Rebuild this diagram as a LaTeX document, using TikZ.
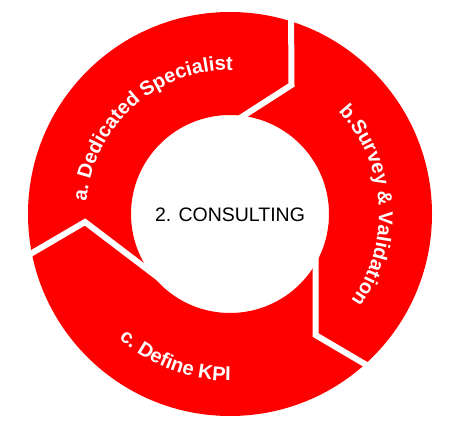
\documentclass[tikz,border=0pt]{standalone}
\usepackage{fontspec}
\setmainfont{Liberation Sans}
\usetikzlibrary{decorations.text}
\definecolor{ringred}{RGB}{255,0,0}
\begin{document}
\begin{tikzpicture}[x=1pt,y=1pt,
  ring/.style={fill=ringred, even odd rule},
  gapline/.style={draw=white, line width=6pt, line join=miter, miter limit=20},
  arclabel/.style={decorate, decoration={text along path, text align=center, text color=white, text={#1}}}
]
\useasboundingbox (-230,-219) rectangle (232,214);
\coordinate (ctr) at (0,0);
% red ring
\fill[ring] (ctr) circle[radius=202] (ctr) circle[radius=99];
% gaps between the three arrow segments
\coordinate (g1o) at (61,209);
\coordinate (g1t) at (61.5,129);
\coordinate (g1i) at (8.5,95);
\coordinate (g2i) at (85.5,-36);
\coordinate (g2t) at (85.5,-121);
\coordinate (g2o) at (145,-156);
\coordinate (g3o) at (-215,-49);
\coordinate (g3t) at (-145,-8);
\coordinate (g3i) at (-70,-65);
\draw[gapline] (g1o) -- (g1t) -- (g1i);
\draw[gapline] (g2i) -- (g2t) -- (g2o);
\draw[gapline] (g3o) -- (g3t) -- (g3i);
% curved labels
\path[arclabel={|\fontsize{20}{24}\selectfont\bfseries|a. Dedicated Specialist}]
  (176:144) arc[start angle=176, end angle=88, radius=144];
\path[arclabel={|\fontsize{20}{24}\selectfont\bfseries|b.Survey {\&} Validation}]
  (44.7:149) arc[start angle=44.7, end angle=-37, radius=149];
\path[arclabel={|\fontsize{20}{24}\selectfont\bfseries|c. Define KPI}]
  (228:167) arc[start angle=228, end angle=270.5, radius=167];
% centre title
\node (title) at (0,-1) {\fontsize{19.5}{23}\selectfont 2. CONSULTING};
\end{tikzpicture}
\end{document}
